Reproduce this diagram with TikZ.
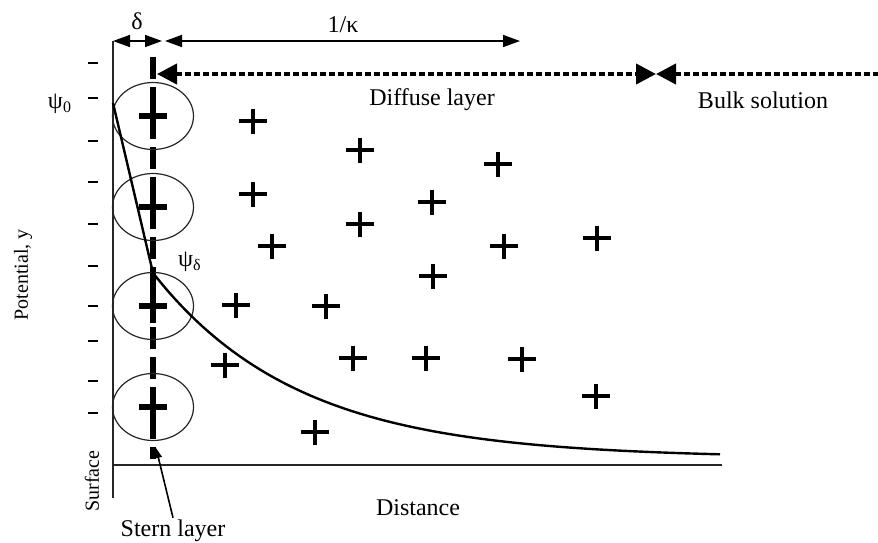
\documentclass[tikz,border=0pt]{standalone}
\usepackage{fontspec}
\setmainfont{Liberation Serif}
\usetikzlibrary{arrows.meta, positioning, shapes.geometric}

\begin{document}
\begin{tikzpicture}[x=0.5pt, y=-0.5pt,
    axis/.style={line width=0.8pt, draw=black!85},
    tick/.style={line width=0.8pt},
    dimline/.style={line width=0.8pt, {Triangle[length=8.5pt,width=6pt]}-{Triangle[length=8.5pt,width=6pt]}},
    dotline/.style={line width=2pt, dash pattern=on 3pt off 1.5pt},
    bigtip/.tip={Triangle[length=10pt,width=10pt]},
    stern/.style={line width=2.6pt, dash pattern=on 11pt off 4pt},
    ion/.style={draw=black!85, line width=0.6pt, ellipse, minimum width=40.5pt, minimum height=33.5pt, inner sep=0pt},
    boldplus/.style={line width=2.6pt},
    plusion/.style={line width=1.6pt},
    curve/.style={line width=1.2pt},
    pointer/.style={line width=0.8pt, -{Triangle[length=5pt,width=3.5pt]}},
    lbl/.style={font=\fontsize{12}{14}\selectfont, inner sep=1pt},
    side/.style={font=\fontsize{10}{12}\selectfont, rotate=90, inner sep=1pt}
]
\useasboundingbox (0,0) rectangle (878,542);

% Axes
\coordinate (axistop) at (113,41);
\coordinate (axisbot) at (113,498);
\coordinate (surfleft) at (113,465);
\coordinate (surfright) at (722,465);
\draw[axis] (axistop) -- (axisbot);
\draw[axis] (surfleft) -- (surfright);

% Ticks on potential axis
\foreach \y in {63,98,141,182,224,266,306,341,381,413}
    \draw[tick] (88,\y) -- (98,\y);

% Stern plane
\coordinate (sterntop) at (153,57);
\coordinate (sternbot) at (153,459);
\draw[stern] (sterntop) -- (sternbot);

% Adsorbed ions
\foreach \n/\y in {1/116, 2/207, 3/306, 4/407} {
    \node[ion] (ion\n) at (153,\y) {};
    \draw[boldplus] ([xshift=-7.2pt]ion\n.center) -- ([xshift=7.2pt]ion\n.center);
    \draw[boldplus] ([yshift=8.5pt]ion\n.center) -- ([yshift=-8.5pt]ion\n.center);
}

% Ions in diffuse layer
\foreach \x/\y in {253/121, 360/150, 498/164, 253/194, 432/202, 360/224, 272/246,
                   504/246, 597/238, 433/276, 236/305, 326/306, 225/365, 353/358,
                   426/358, 522/359, 596/396, 315/432}
    \draw[plusion] (\x-14,\y) -- (\x+14,\y) (\x,\y-12.5) -- (\x,\y+12.5);

% Dimension arrows
\coordinate (deltaend) at (162,41);
\coordinate (kappastart) at (165,41);
\coordinate (kappaend) at (520,41);
\draw[dimline] (axistop) -- (deltaend);
\draw[dimline] (kappastart) -- (kappaend);
\node[lbl] (delta) at (137,21) {δ};
\node[lbl] (kappa) at (343,25) {1/κ};

% Layer extents
\coordinate (diffstart) at (157,74);
\coordinate (bulkstart) at (656,74);
\coordinate (bulkend) at (878,74);
\draw[dotline, bigtip-bigtip] (diffstart) -- (bulkstart);
\draw[dotline, bigtip-] (bulkstart) -- (bulkend);
\node[lbl] (diffuse) at (432,100) {Diffuse layer};
\node[lbl] (bulk) at (763,100) {Bulk solution};

% Potential curve
\coordinate (psi0pt) at (113,103);
\coordinate (psidpt) at (153,273);
\draw[curve] (psi0pt) -- (psidpt)
    -- plot[domain=153:720, samples=80] (\x, {458-185*exp(-(\x-153)/145)});
\node[lbl] (psi0) at (60,104) {ψ\textsubscript{0}};
\node[lbl] (psidelta) at (190,262) {ψ\textsubscript{δ}};

% Axis labels
\node[side] (potential) at (23,275) {Potential, y};
\node[side] (surface) at (92,481) {Surface};
\node[lbl] (distance) at (418,508) {Distance};

% Stern layer label
\node[lbl] (sternlbl) at (173,531) {Stern layer};
\coordinate (sterntip) at (156,448);
\draw[pointer] (sternlbl.north) -- (sterntip);

\end{tikzpicture}
\end{document}
